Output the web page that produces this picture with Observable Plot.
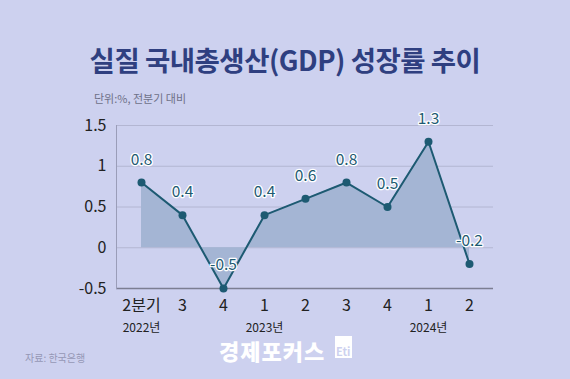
<!DOCTYPE html>
<html><head><meta charset="utf-8">
<script src="https://cdn.jsdelivr.net/npm/d3@7"></script>
<script src="https://cdn.jsdelivr.net/npm/@observablehq/plot@0.6"></script>
<style>
html,body{margin:0;padding:0;}
body{width:570px;height:379px;background:#cdd1ef;font-family:"Noto Sans CJK KR","Noto Sans",sans-serif;position:relative;overflow:hidden;}
#title{position:absolute;left:0;width:570px;top:39px;text-align:center;font-size:27.5px;font-weight:700;color:#2f3f80;letter-spacing:-0.5px;}
#sub{position:absolute;left:94px;top:90px;font-size:11px;color:#6e7088;}
#chart{position:absolute;left:0;top:105px;}
#src{position:absolute;left:25px;top:350px;font-size:10px;color:#9597b5;}
#logo{position:absolute;left:219px;top:339px;font-size:22px;line-height:22px;font-weight:900;color:#ffffff;letter-spacing:1px;}
#logobox{position:absolute;left:335px;top:336px;width:17px;height:22px;background:#ffffff;}
#logobox span{position:absolute;left:1px;bottom:1px;font-size:11px;font-weight:700;color:#cdd1ef;line-height:11px;}
</style></head>
<body>
<div id="title">실질 국내총생산(GDP) 성장률 추이</div>
<div id="sub">단위:%, 전분기 대비</div>
<div id="chart"></div>
<div id="src">자료: 한국은행</div>
<div id="logo">경제포커스</div>
<div id="logobox"><span>Eti</span></div>
<script>
const quarters = ["2022-2","2022-3","2022-4","2023-1","2023-2","2023-3","2023-4","2024-1","2024-2"];
const tickLabels = ["2분기","3","4","1","2","3","4","1","2"];
const values = [0.8,0.4,-0.5,0.4,0.6,0.8,0.5,1.3,-0.2];
const valueLabels = ["0.8","0.4","-0.5","0.4","0.6","0.8","0.5","1.3","-0.2"];
const yTicks = [1.5,1,0.5,0,-0.5];
const yTickLabels = ["1.5","1","0.5","0","-0.5"];
const yearQuarters = ["2022-2","2023-1","2024-1"];
const yearLabels = ["2022년","2023년","2024년"];

const data = quarters.map((q,i)=>({q, v: values[i], label: valueLabels[i]}));
const years = yearQuarters.map((q,i)=>({q, label: yearLabels[i]}));

const chart = Plot.plot({
  width: 570,
  height: 240,
  marginLeft: 116,
  marginRight: 77,
  marginTop: 20,
  marginBottom: 57,
  style: {background: "transparent", fontFamily: "'Noto Sans CJK KR','Noto Sans',sans-serif"},
  x: {type: "point", domain: quarters, padding: 0.5, axis: null, label: null},
  y: {domain: [-0.5, 1.5], axis: null, label: null},
  marks: [
    Plot.ruleY([1.5,1,0.5,0], {stroke: "#b3b6d2", strokeWidth: 1}),
    Plot.areaY(data, {x: "q", y: "v", fill: "#a4b5d4", fillOpacity: 1}),
    Plot.ruleY([-0.5], {stroke: "#7c7e92", strokeWidth: 1.5}),
    Plot.frame({anchor: "left", stroke: "#9a9db8", strokeWidth: 1}),
    Plot.axisY({ticks: yTicks, tickFormat: (d)=>yTickLabels[yTicks.indexOf(d)], tickSize: 0, tickPadding: 10, fontSize: 16, fill: "#222", label: null}),
    Plot.axisX({tickFormat: (d)=>tickLabels[quarters.indexOf(d)], tickSize: 0, tickPadding: 11, fontSize: 16, fill: "#222", label: null}),
    Plot.text(years, {x: "q", y: -0.5, text: "label", dy: 40, fontSize: 12, fill: "#222"}),
    Plot.line(data, {x: "q", y: "v", stroke: "#1d5a72", strokeWidth: 2}),
    Plot.dot(data, {x: "q", y: "v", r: 4, fill: "#1d5a72", stroke: "none"}),
    Plot.text(data, {x: "q", y: "v", text: "label", dy: -23, fontSize: 15.5, fill: "#1d5a72", stroke: "#ffffff", strokeWidth: 2.5})
  ]
});
document.getElementById("chart").appendChild(chart);
</script>
</body></html>
